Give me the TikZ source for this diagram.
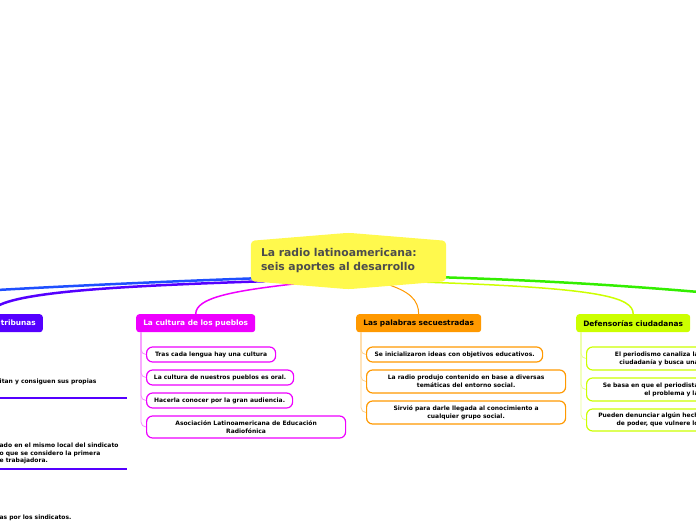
\documentclass[tikz,border=0pt]{standalone}
\usepackage{fontspec}
\setmainfont{DejaVu Sans}
\usetikzlibrary{positioning,calc,backgrounds}
\definecolor{rootC}{HTML}{FFF94D}
\definecolor{blueC}{HTML}{1F4FFF}
\definecolor{tribC}{HTML}{5500FF}
\definecolor{cultC}{HTML}{EE00FF}
\definecolor{palC}{HTML}{FF9900}
\definecolor{defC}{HTML}{CCFF00}
\definecolor{greenC}{HTML}{33EE00}

\begin{document}
\begin{tikzpicture}[x=1pt,y=-1pt, every node/.style={font=\bfseries\fontsize{6}{8}\selectfont},
  branch/.style={rounded corners=3pt, minimum height=18pt, anchor=north west, inner sep=0pt,
                 font=\bfseries\fontsize{7.4}{9}\selectfont},
  item/.style={draw, line width=1.2pt, rounded corners=6pt, fill=white, align=center, anchor=west, inner sep=0pt},
  link/.style={line width=0.8pt, rounded corners=5pt},
  main/.style={line width=#1, line cap=round}]
  \useasboundingbox (0,0) rectangle (696,520);

  \node[text width=175pt, minimum height=40pt, inner xsep=10pt, align=left, text=black!70,
        font=\bfseries\fontsize{10.8}{14}\selectfont] (root) at (348.5,261)
        {La radio latinoamericana:\\seis aportes al desarrollo};
  \coordinate (blueEnd) at (-3,290);
  \coordinate (greenEnd) at (699,292);

  \node[branch, fill=tribC, text=white, anchor=north east, inner xsep=7pt, text width=90pt, align=right] (trib) at (43,314) {tribunas};
  \node[branch, fill=cultC, text=white, minimum width=119pt] (cult) at (136,314) {La cultura de los pueblos};
  \node[branch, fill=palC, minimum width=125pt] (pal) at (356,314) {Las palabras secuestradas};
  \node[branch, fill=defC, minimum width=114pt] (def) at (576,314) {Defensorías ciudadanas};

  \node[item, draw=cultC, minimum width=129pt, minimum height=15pt] (cultA) at (146,354.5) {Tras cada lengua hay una cultura};
  \node[item, draw=cultC, minimum width=147pt, minimum height=15pt] (cultB) at (146,377.5) {La cultura de nuestros pueblos es oral.};
  \node[item, draw=cultC, minimum width=146pt, minimum height=15pt] (cultC) at (146,400.5) {Hacerla conocer por la gran audiencia.};
  \node[item, draw=cultC, minimum width=199pt, minimum height=22pt] (cultD) at (146,427) {Asociación Latinoamericana de Educación\\Radiofónica};

  \node[item, draw=palC, minimum width=176pt, minimum height=15pt] (palA) at (366,354.5) {Se inicializaron ideas con objetivos educativos.};
  \node[item, draw=palC, minimum width=199pt, minimum height=23pt] (palB) at (366,381.5) {La radio produjo contenido en base a diversas\\temáticas del entorno social.};
  \node[item, draw=palC, minimum width=199pt, minimum height=23pt] (palC) at (366,412.5) {Sirvió para darle llegada al conocimiento a\\cualquier grupo social.};

  \node[item, draw=defC, minimum width=120pt, minimum height=23pt, text width=104pt, align=right] (defA) at (586,358.5) {El periodismo canaliza la\\ciudadanía y busca una};
  \node[item, draw=defC, minimum width=120pt, minimum height=23pt, text width=104pt, align=right] (defB) at (586,389.5) {Se basa en que el periodista\\el problema y la};
  \node[item, draw=defC, minimum width=120pt, minimum height=22pt, text width=104pt, align=right] (defC) at (586,420) {Pueden denunciar algún hech\\de poder, que vulnere lo};

  \node[anchor=west, inner sep=0pt] (trib1) at (-0.5,382) {itan y consiguen sus propias};
  \node[anchor=west, inner sep=0pt, align=left, font=\bfseries\fontsize{6}{7.5}\selectfont] (trib2) at (-0.5,453.5)
        {ado en el mismo local del sindicato\\o que se considero la primera\\e trabajadora.};
  \node[anchor=west, inner sep=0pt] (trib3) at (-0.5,518) {as por los sindicatos.};
  \draw[tribC, line width=2.5pt] (0,398) -- (127,398);
  \draw[tribC, line width=2.5pt] (0,469) -- (127,469);

  \begin{scope}[on background layer]
    \draw[main=2.5pt, blueC] ($(root.south west)+(7,-3)$) .. controls (150,282) and (50,287) .. (blueEnd);
    \draw[main=2.5pt, tribC] ($(root.south west)+(14,0)$) .. controls (120,286) and (-9,292) .. (trib.north);
    \draw[main=1.5pt, cultC] ($(root.south)+(-48,2)$) .. controls (230,291) and (196,298) .. (cult.north);
    \draw[main=1pt, palC] ($(root.south)+(35,2)$) .. controls (410,291) and (418.5,300) .. (pal.north);
    \draw[main=1.5pt, defC] ($(root.south east)+(-20,1)$) .. controls (600,288) and (633,297) .. (def.north);
    \draw[main=2.5pt, greenC] ($(root.south east)+(-6,-4)$) .. controls (560,281) and (640,287) .. (greenEnd);
    \fill[rootC, rounded corners=4pt] (root.north west) -- ($(root.north)+(0,-8)$) -- (root.north east)
      -- (root.south east) -- ($(root.south)+(0,8)$) -- (root.south west) -- cycle;
    \foreach \b/\i in {cult/A,cult/B,cult/C,cult/D,pal/A,pal/B,pal/C,def/A,def/B,def/C}
      \draw[link, \b C!45] ([xshift=5pt]\b.south west) |- (\b\i.west);
  \end{scope}
\end{tikzpicture}
\end{document}
